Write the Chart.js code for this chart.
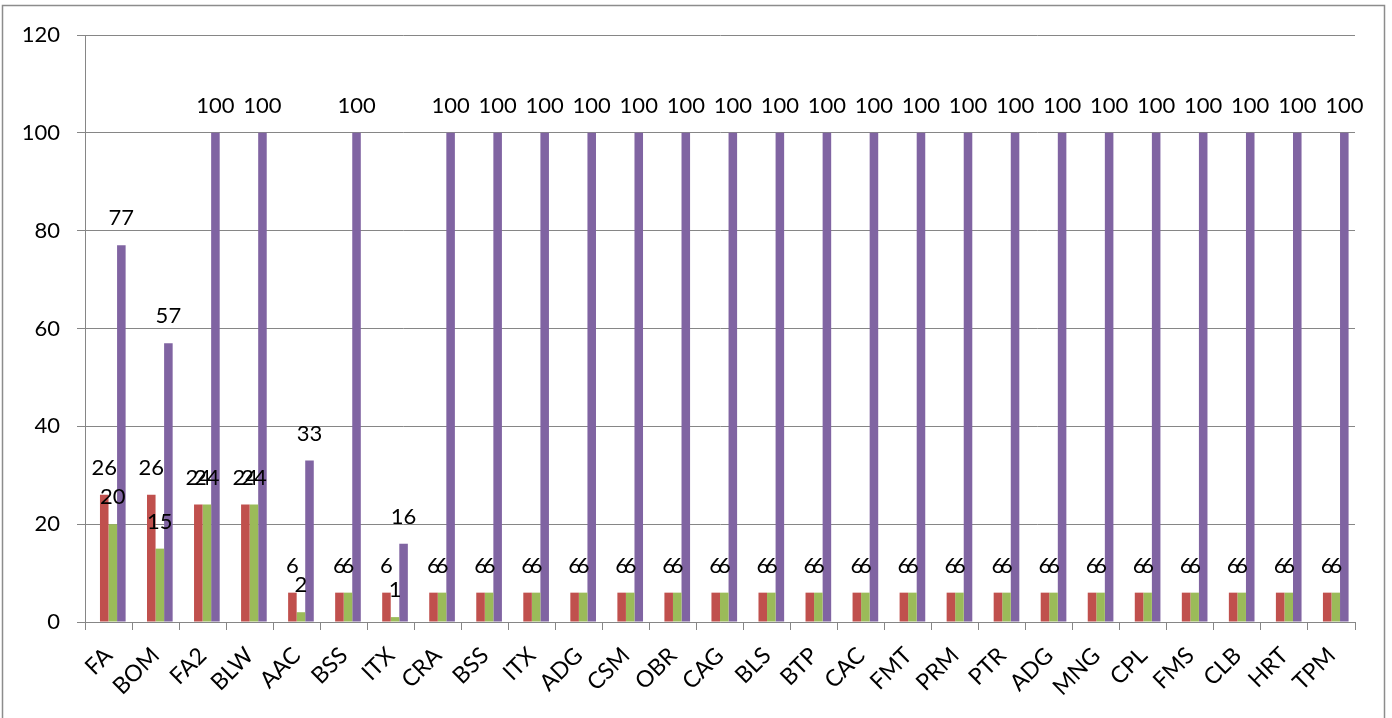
<!DOCTYPE html>
<html>
<head>
<meta charset="utf-8">
<script src="https://cdn.jsdelivr.net/npm/chart.js@4/dist/chart.umd.min.js"></script>
<style>
  html, body { margin: 0; padding: 0; background: #fff; }
  #wrap { width: 1392px; height: 718px; position: relative; }
</style>
</head>
<body>
<div id="wrap"><canvas id="c" width="1392" height="718"></canvas></div>
<script>
const categories = ["FA","BOM","FA2","BLW","AAC","BSS","ITX","CRA","BSS","ITX","ADG","CSM","OBR","CAG","BLS","BTP","CAC","FMT","PRM","PTR","ADG","MNG","CPL","FMS","CLB","HRT","TPM"];
const blankSeries = categories.map(() => null);
const redSeries = [26,26,24,24,6,6,6,6,6,6,6,6,6,6,6,6,6,6,6,6,6,6,6,6,6,6,6];
const greenSeries = [20,15,24,24,2,6,1,6,6,6,6,6,6,6,6,6,6,6,6,6,6,6,6,6,6,6,6];
const purpleSeries = [77,57,100,100,33,100,16,100,100,100,100,100,100,100,100,100,100,100,100,100,100,100,100,100,100,100,100];
const yTicks = [0,20,40,60,80,100,120];

const FONT = "Lato, 'Open Sans', sans-serif";
const GRID = '#868686';

const labelPlugin = {
  id: 'barLabels',
  afterDatasetsDraw(chart) {
    const ctx = chart.ctx;
    ctx.save();
    ctx.font = '22px ' + FONT;
    ctx.fillStyle = '#000';
    ctx.textAlign = 'center';
    ctx.textBaseline = 'middle';
    chart.data.datasets.forEach((ds, i) => {
      const meta = chart.getDatasetMeta(i);
      meta.data.forEach((bar, j) => {
        const v = ds.data[j];
        if (v === null || v === undefined) return;
        ctx.fillText(String(v), bar.x, bar.y - 27);
      });
    });
    ctx.restore();
  }
};

const borderPlugin = {
  id: 'outerBorder',
  beforeDraw(chart) {
    const ctx = chart.ctx;
    ctx.save();
    ctx.fillStyle = '#fff';
    ctx.fillRect(0, 0, chart.width, chart.height);
    ctx.strokeStyle = '#8c8c8c';
    ctx.lineWidth = 1.5;
    ctx.strokeRect(2.5, 5.5, 1382, 800);
    ctx.restore();
  }
};

new Chart(document.getElementById('c'), {
  type: 'bar',
  data: {
    labels: categories,
    datasets: [
      { label: '', data: blankSeries, backgroundColor: 'rgba(0,0,0,0)' },
      { label: 'Series 1', data: redSeries, backgroundColor: '#C0504D' },
      { label: 'Series 2', data: greenSeries, backgroundColor: '#9BBB59' },
      { label: 'Series 3', data: purpleSeries, backgroundColor: '#8064A2' }
    ]
  },
  options: {
    responsive: false,
    animation: false,
    maintainAspectRatio: false,
    layout: { padding: { top: 35, right: 37, left: 0, bottom: 0 } },
    plugins: { legend: { display: false }, tooltip: { enabled: false } },
    datasets: { bar: { categoryPercentage: 4 / 5.5, barPercentage: 1.0 } },
    scales: {
      x: {
        grid: { display: true, drawOnChartArea: false, drawTicks: true, tickLength: 8, color: GRID, lineWidth: 1 },
        border: { display: true, color: GRID, width: 1 },
        ticks: { minRotation: 45, maxRotation: 45, autoSkip: false, color: '#000', font: { family: FONT, size: 23 }, padding: 12 },
        afterFit(scale) { scale.height = 96; }
      },
      y: {
        min: 0, max: 120,
        afterBuildTicks(scale) { scale.ticks = yTicks.map(v => ({ value: v })); },
        grid: { color: GRID, lineWidth: 1, drawTicks: true, tickLength: 8 },
        border: { display: true, color: GRID, width: 1 },
        ticks: { color: '#000', font: { family: FONT, size: 22 }, padding: 17 },
        afterFit(scale) { scale.width = 85; }
      }
    }
  },
  plugins: [borderPlugin, labelPlugin]
});
</script>
</body>
</html>
